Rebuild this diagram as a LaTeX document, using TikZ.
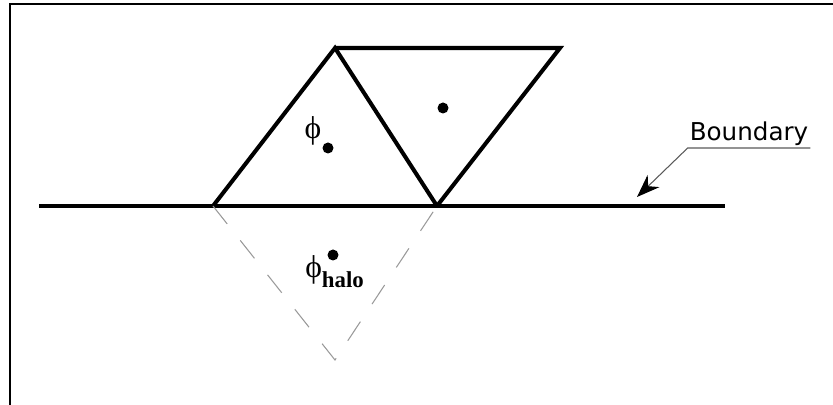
\documentclass[tikz,border=0pt]{standalone}
\usepackage{fontspec}
\newfontfamily\labelfont{DejaVu Sans}
\newfontfamily\symbolfont{Liberation Serif}
\usetikzlibrary{arrows.meta,positioning}

\begin{document}
\begin{tikzpicture}[
    x=0.02cm, y=-0.02cm,
    edge/.style={line width=2.3pt, line join=miter},
    halo/.style={draw=gray!80, line width=0.6pt, dash pattern=on 13pt off 12pt},
    centroid/.style={circle, fill=black, inner sep=0pt, minimum size=0.22cm},
    symbol/.style={font=\symbolfont\fontsize{18}{20}\selectfont, inner sep=0pt},
    pointer/.style={-{Stealth[length=4.6mm, width=3.4mm, color=black]}, draw=gray!70!black, line width=0.6pt}
]
\useasboundingbox (0,0) rectangle (833,405);

% frame
\draw[line width=1.2pt] (10,405) -- (10,4) -- (833,4);

% mesh vertices
\coordinate (west) at (39,206);
\coordinate (east) at (725,206);
\coordinate (bl) at (213,206);
\coordinate (br) at (437,206);
\coordinate (apex) at (335,48);
\coordinate (tr) at (560,48);
\coordinate (ghost) at (335,360);

% boundary and cells
\draw[edge] (west) -- (east);
\draw[edge] (bl) -- (apex) -- (br);
\draw[edge] (apex) -- (tr) -- (br);
\draw[halo] (bl) -- (ghost) -- (br);

% cell centres
\node[centroid] (inner) at (328,148) {};
\node[centroid] (outer) at (443,108) {};
\node[centroid] (halocell) at (333,255) {};

\node[symbol] (phi) at (313,131) {ϕ};
\node[symbol, anchor=west] (phihalo) at (305,272) {ϕ\raisebox{-0.7ex}{\bfseries\fontsize{13}{15}\selectfont halo}};

% boundary label
\node[font=\labelfont\fontsize{14}{16}\selectfont, inner sep=1pt] (bndlabel) at (749,134) {Boundary};
\coordinate (tip) at (637,197);
\draw[pointer] (bndlabel.south east) -- (bndlabel.south west) -- (tip);

\end{tikzpicture}
\end{document}
